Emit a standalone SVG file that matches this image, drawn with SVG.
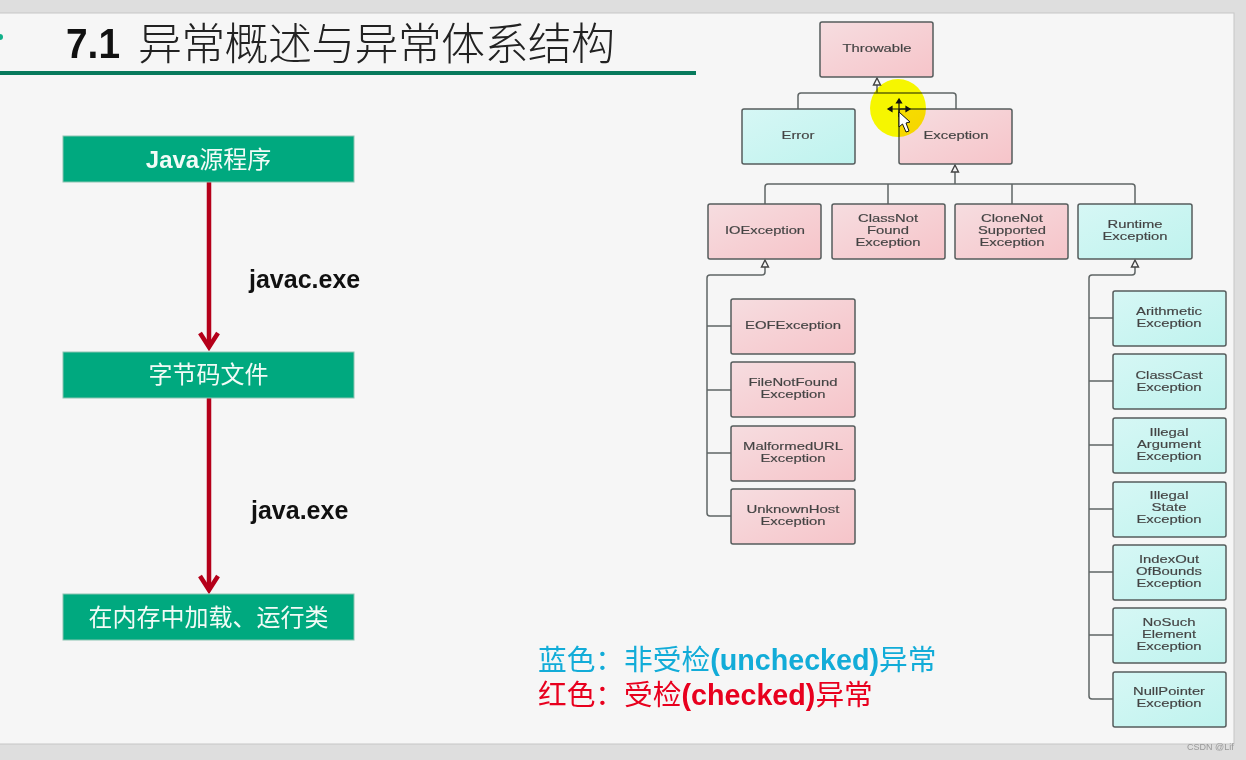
<svg xmlns="http://www.w3.org/2000/svg" width="1246" height="760" viewBox="0 0 1246 760">
<style>
.n{stroke:#555c5c;stroke-width:1.5}
.p{fill:url(#pk)}
.c{fill:url(#cy)}
.t{font-family:"Liberation Sans",Arial,sans-serif;font-size:10.400px;fill:#444;stroke:#444;stroke-width:.15;text-anchor:middle}
.g{fill:#00a97f;stroke:#8cc4b2;stroke-width:1}
.gt{font-family:"Liberation Sans","Noto Sans CJK SC",sans-serif;font-size:24px;fill:#f2fbf7;text-anchor:middle}
.l{font-family:"Liberation Sans",sans-serif;font-size:25px;font-weight:bold;fill:#111}
.cn{fill:none;stroke:#5f6565;stroke-width:1.5}
.ar{fill:none;stroke:#b5001a;stroke-width:4.500}
.ah{fill:#f6f6f6;stroke:#444;stroke-width:1.4}
.k{font-family:"Liberation Sans","Noto Sans CJK SC",sans-serif;font-size:28.700px}
</style>
<defs>
<linearGradient id="pk" x1="0" y1="0" x2="1" y2="1"><stop offset="0" stop-color="#f6dde0"/><stop offset="1" stop-color="#f6c4c9"/></linearGradient>
<linearGradient id="cy" x1="0" y1="0" x2="1" y2="1"><stop offset="0" stop-color="#d6f7f5"/><stop offset="1" stop-color="#bff3ee"/></linearGradient>
<polygon id="tri" points="0,-6 -3.500,1 3.500,1" class="ah"/>
</defs>
<rect width="1246" height="760" fill="#dedede"/>
<rect x="-2" y="13" width="1236" height="731" fill="#f6f6f6" stroke="#c6c6c6" stroke-width="1"/>
<circle cx="0" cy="37" r="3" fill="#12b08a"/>
<rect x="0" y="71" width="696" height="4" fill="#077a5c"/>
<text x="66" y="58" font-family="Liberation Sans,sans-serif" font-size="43" font-weight="bold" fill="#111" textLength="54" lengthAdjust="spacingAndGlyphs">7.1</text>
<text x="138" y="60" font-family="Noto Sans CJK SC,sans-serif" font-size="44" font-weight="300" fill="#222" textLength="477">异常概述与异常体系结构</text>

<g id="connectors">
<path class="ar" d="M209 182V347M209 398V590"/>
<path class="ar" d="M200 333L209 347L218 333M200 576L209 590L218 576"/>
<path class="cn" d="M877 84V93M798 109V96Q798 93 801 93H953Q956 93 956 96V109"/>
<path class="cn" d="M955 171V184M765 204V187Q765 184 768 184H1132Q1135 184 1135 187V204M888 184V204M1012 184V204"/>
<path class="cn" d="M765 266V272Q765 275 762 275H710Q707 275 707 278V513Q707 516 710 516H731M707 326H731M707 390H731M707 453H731"/>
<path class="cn" d="M1135 266V272Q1135 275 1132 275H1092Q1089 275 1089 278V696Q1089 699 1092 699H1113M1089 318H1113M1089 381H1113M1089 445H1113M1089 509H1113M1089 572H1113M1089 635H1113"/>
<use href="#tri" x="877" y="84"/>
<use href="#tri" x="955" y="171"/>
<use href="#tri" x="765" y="266"/>
<use href="#tri" x="1135" y="266"/>
</g>

<g id="java-src"><rect class="g" x="63" y="136" width="291" height="46"/><text class="gt" x="208.500" y="168"><tspan font-weight="bold">Java</tspan>源程序</text></g>
<g id="bytecode"><rect class="g" x="63" y="352" width="291" height="46"/><text class="gt" x="208.500" y="383">字节码文件</text></g>
<g id="load-run"><rect class="g" x="63" y="594" width="291" height="46"/><text class="gt" x="208.500" y="626">在内存中加载、运行类</text></g>
<text class="l" x="249" y="288">javac.exe</text>
<text class="l" x="251" y="519">java.exe</text>

<g id="throwable"><rect class="n p" x="820" y="22" width="113" height="55" rx="2"/><text class="t" x="877" y="52" textLength="69" lengthAdjust="spacingAndGlyphs">Throwable</text></g>
<g id="error"><rect class="n c" x="742" y="109" width="113" height="55" rx="2"/><text class="t" x="798" y="139" textLength="33" lengthAdjust="spacingAndGlyphs">Error</text></g>
<g id="exception"><rect class="n p" x="899" y="109" width="113" height="55" rx="2"/><text class="t" x="956" y="139" textLength="65" lengthAdjust="spacingAndGlyphs">Exception</text></g>
<g id="ioexception"><rect class="n p" x="708" y="204" width="113" height="55" rx="2"/><text class="t" x="765" y="234" textLength="80" lengthAdjust="spacingAndGlyphs">IOException</text></g>
<g id="classnotfound"><rect class="n p" x="832" y="204" width="113" height="55" rx="2"/><text class="t" x="888" y="222" textLength="60" lengthAdjust="spacingAndGlyphs">ClassNot</text><text class="t" x="888" y="234" textLength="42" lengthAdjust="spacingAndGlyphs">Found</text><text class="t" x="888" y="246" textLength="65" lengthAdjust="spacingAndGlyphs">Exception</text></g>
<g id="clonenotsupported"><rect class="n p" x="955" y="204" width="113" height="55" rx="2"/><text class="t" x="1012" y="222" textLength="62" lengthAdjust="spacingAndGlyphs">CloneNot</text><text class="t" x="1012" y="234" textLength="68" lengthAdjust="spacingAndGlyphs">Supported</text><text class="t" x="1012" y="246" textLength="65" lengthAdjust="spacingAndGlyphs">Exception</text></g>
<g id="runtime"><rect class="n c" x="1078" y="204" width="114" height="55" rx="2"/><text class="t" x="1135" y="228" textLength="55" lengthAdjust="spacingAndGlyphs">Runtime</text><text class="t" x="1135" y="240" textLength="65" lengthAdjust="spacingAndGlyphs">Exception</text></g>

<g id="eof"><rect class="n p" x="731" y="299" width="124" height="55" rx="2"/><text class="t" x="793" y="329" textLength="96" lengthAdjust="spacingAndGlyphs">EOFException</text></g>
<g id="filenotfound"><rect class="n p" x="731" y="362" width="124" height="55" rx="2"/><text class="t" x="793" y="386" textLength="89" lengthAdjust="spacingAndGlyphs">FileNotFound</text><text class="t" x="793" y="398" textLength="65" lengthAdjust="spacingAndGlyphs">Exception</text></g>
<g id="malformedurl"><rect class="n p" x="731" y="426" width="124" height="55" rx="2"/><text class="t" x="793" y="450" textLength="100" lengthAdjust="spacingAndGlyphs">MalformedURL</text><text class="t" x="793" y="462" textLength="65" lengthAdjust="spacingAndGlyphs">Exception</text></g>
<g id="unknownhost"><rect class="n p" x="731" y="489" width="124" height="55" rx="2"/><text class="t" x="793" y="513" textLength="93" lengthAdjust="spacingAndGlyphs">UnknownHost</text><text class="t" x="793" y="525" textLength="65" lengthAdjust="spacingAndGlyphs">Exception</text></g>

<g id="arithmetic"><rect class="n c" x="1113" y="291" width="113" height="55" rx="2"/><text class="t" x="1169" y="315" textLength="66" lengthAdjust="spacingAndGlyphs">Arithmetic</text><text class="t" x="1169" y="327" textLength="65" lengthAdjust="spacingAndGlyphs">Exception</text></g>
<g id="classcast"><rect class="n c" x="1113" y="354" width="113" height="55" rx="2"/><text class="t" x="1169" y="379" textLength="67" lengthAdjust="spacingAndGlyphs">ClassCast</text><text class="t" x="1169" y="391" textLength="65" lengthAdjust="spacingAndGlyphs">Exception</text></g>
<g id="illegalargument"><rect class="n c" x="1113" y="418" width="113" height="55" rx="2"/><text class="t" x="1169" y="436" textLength="39" lengthAdjust="spacingAndGlyphs">Illegal</text><text class="t" x="1169" y="448" textLength="64" lengthAdjust="spacingAndGlyphs">Argument</text><text class="t" x="1169" y="460" textLength="65" lengthAdjust="spacingAndGlyphs">Exception</text></g>
<g id="illegalstate"><rect class="n c" x="1113" y="482" width="113" height="55" rx="2"/><text class="t" x="1169" y="499" textLength="39" lengthAdjust="spacingAndGlyphs">Illegal</text><text class="t" x="1169" y="511" textLength="35" lengthAdjust="spacingAndGlyphs">State</text><text class="t" x="1169" y="523" textLength="65" lengthAdjust="spacingAndGlyphs">Exception</text></g>
<g id="indexoutofbounds"><rect class="n c" x="1113" y="545" width="113" height="55" rx="2"/><text class="t" x="1169" y="563" textLength="60" lengthAdjust="spacingAndGlyphs">IndexOut</text><text class="t" x="1169" y="575" textLength="66" lengthAdjust="spacingAndGlyphs">OfBounds</text><text class="t" x="1169" y="587" textLength="65" lengthAdjust="spacingAndGlyphs">Exception</text></g>
<g id="nosuchelement"><rect class="n c" x="1113" y="608" width="113" height="55" rx="2"/><text class="t" x="1169" y="626" textLength="53" lengthAdjust="spacingAndGlyphs">NoSuch</text><text class="t" x="1169" y="638" textLength="54" lengthAdjust="spacingAndGlyphs">Element</text><text class="t" x="1169" y="650" textLength="65" lengthAdjust="spacingAndGlyphs">Exception</text></g>
<g id="nullpointer"><rect class="n c" x="1113" y="672" width="113" height="55" rx="2"/><text class="t" x="1169" y="695" textLength="72" lengthAdjust="spacingAndGlyphs">NullPointer</text><text class="t" x="1169" y="707" textLength="65" lengthAdjust="spacingAndGlyphs">Exception</text></g>

<ellipse cx="898" cy="108" rx="28" ry="29" fill="#ffff00" style="mix-blend-mode:multiply"/>
<g stroke="#111" stroke-width="1.2" fill="#111">
<path d="M891 109H907M899 102V117" fill="none"/>
<path d="M899 99l-2.500 4h5zM888 109l4 -2.500v5zM910 109l-4 -2.500v5z"/>
</g>
<path d="M899 112V127L902.500 124L906 132L909 131L906 123L910 122Z" fill="#fff" stroke="#111" stroke-width="1"/>

<text class="k" x="538" y="670" fill="#12acd8">蓝色：非受检<tspan font-weight="bold">(unchecked)</tspan>异常</text>
<text class="k" x="538" y="705" fill="#e8001e">红色：受检<tspan font-weight="bold">(checked)</tspan>异常</text>
<text x="1187" y="750" font-family="Liberation Sans,sans-serif" font-size="9" fill="#999">CSDN @Lif</text>
</svg>
